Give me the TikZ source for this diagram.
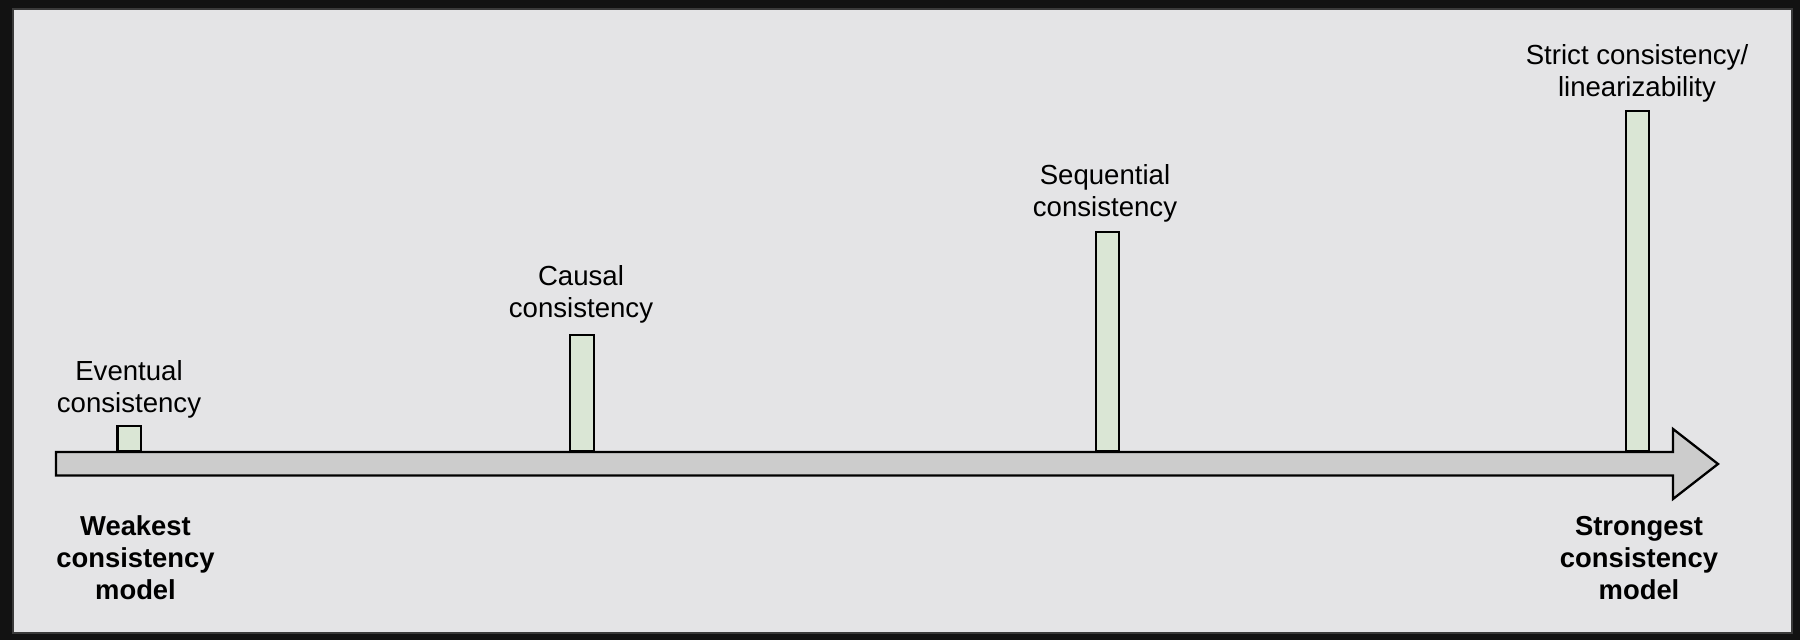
\documentclass[tikz,border=0pt]{standalone}
\usepackage{fontspec}
\setmainfont{Liberation Sans}
\definecolor{outerbg}{HTML}{121212}
\definecolor{panelbg}{HTML}{E4E4E6}
\definecolor{panelline}{HTML}{3A3A3A}
\definecolor{arrowfill}{HTML}{CCCCCC}
\definecolor{barfill}{HTML}{DAE6D5}
\begin{document}
\begin{tikzpicture}[x=0.5pt,y=-0.5pt,
  lbl/.style={align=center,font=\fontsize{13.8}{16}\selectfont,inner sep=0pt,anchor=base},
  blbl/.style={align=center,font=\fontsize{13.7}{16}\selectfont\bfseries,inner sep=0pt,anchor=base},
  bar/.style={draw=black,fill=barfill,line width=1.15pt,inner sep=0pt,minimum width=11.75pt,anchor=south},
  axis/.style={draw=black,fill=arrowfill,line width=1.15pt,line join=miter}]
% background
\fill[outerbg] (0,0) rectangle (1800,640);
\useasboundingbox (0,0) rectangle (1800,640);
\filldraw[fill=panelbg,draw=panelline,line width=0.6pt] (13,9) rectangle (1792,633);
% scale arrow
\coordinate (a0) at (56,452);
\draw[axis] (a0) -- (1673,452) -- (1673,429) -- (1718,464) -- (1673,499) -- (1673,475.5) -- (56,475.5) -- cycle;
% bars
\node[bar,minimum height=12.5pt] (b1) at (129.3,452) {};
\node[bar,minimum height=58pt] (b2) at (582,452) {};
\node[bar,minimum height=109.5pt] (b3) at (1107.5,452) {};
\node[bar,minimum height=170pt] (b4) at (1637.5,452) {};
% labels (base anchor = baseline of the last line)
\node[lbl] (l1) at (129,413) {Eventual\\consistency};
\node[lbl] (l2) at (581,318) {Causal\\consistency};
\node[lbl] (l3) at (1105,217) {Sequential\\consistency};
\node[lbl] (l4) at (1637,97) {Strict consistency/\\linearizability};
\node[blbl] (w) at (135.5,600) {Weakest\\consistency\\model};
\node[blbl] (s) at (1639,600) {Strongest\\consistency\\model};
\end{tikzpicture}
\end{document}
